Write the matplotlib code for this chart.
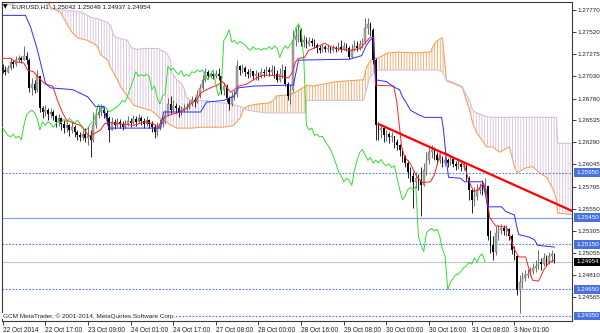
import matplotlib
matplotlib.use("Agg")
import matplotlib.pyplot as plt
import matplotlib.transforms as mtransforms
import numpy as np

plt.rcParams["font.family"] = ["Liberation Sans", "DejaVu Sans"]
plt.rcParams["hatch.linewidth"] = 0.6

# EURUSD H1 bars, oldest first (bar index 0 = 22 Oct 2014)
first_open = 1.2712
close = [
    1.2710, 1.2708, 1.2712, 1.2719, 1.2717, 1.2721, 1.2723, 1.2721, 1.2726, 1.2721,
    1.2690, 1.2694, 1.2688, 1.2703, 1.2667, 1.2663, 1.2665, 1.2661, 1.2663, 1.2658,
    1.2652, 1.2656, 1.2650, 1.2645, 1.2648, 1.2643, 1.2646, 1.2641, 1.2637, 1.2635,
    1.2638, 1.2634, 1.2636, 1.2632, 1.2648, 1.2660, 1.2663, 1.2665, 1.2662, 1.2656,
    1.2643, 1.2652, 1.2648, 1.2652, 1.2650, 1.2646, 1.2650, 1.2653, 1.2651, 1.2655,
    1.2652, 1.2656, 1.2653, 1.2650, 1.2654, 1.2650, 1.2646, 1.2641, 1.2645, 1.2650,
    1.2652, 1.2660, 1.2672, 1.2665, 1.2670, 1.2667, 1.2663, 1.2665, 1.2667, 1.2669,
    1.2672, 1.2676, 1.2674, 1.2682, 1.2690, 1.2699, 1.2708, 1.2703, 1.2705, 1.2703,
    1.2705, 1.2703, 1.2688, 1.2692, 1.2679, 1.2672, 1.2681, 1.2683, 1.2714, 1.2710,
    1.2712, 1.2708, 1.2705, 1.2709, 1.2703, 1.2705, 1.2703, 1.2708, 1.2707, 1.2710,
    1.2708, 1.2710, 1.2705, 1.2699, 1.2705, 1.2710, 1.2694, 1.2681, 1.2688, 1.2743,
    1.2748, 1.2755, 1.2741, 1.2743, 1.2739, 1.2742, 1.2740, 1.2738, 1.2734, 1.2732,
    1.2736, 1.2733, 1.2734, 1.2732, 1.2734, 1.2733, 1.2736, 1.2733, 1.2737, 1.2734,
    1.2724, 1.2732, 1.2737, 1.2734, 1.2739, 1.2741, 1.2757, 1.2761, 1.2755, 1.2721,
    1.2648, 1.2643, 1.2645, 1.2637, 1.2638, 1.2635, 1.2636, 1.2630, 1.2626, 1.2621,
    1.2614, 1.2606, 1.2596, 1.2592, 1.2585, 1.2589, 1.2587, 1.2581, 1.2598, 1.2609,
    1.2618, 1.2621, 1.2615, 1.2609, 1.2612, 1.2606, 1.2609, 1.2606, 1.2610, 1.2605,
    1.2603, 1.2605, 1.2601, 1.2603, 1.2589, 1.2576, 1.2565, 1.2569, 1.2576, 1.2579,
    1.2576, 1.2580, 1.2524, 1.2514, 1.2507, 1.2528, 1.2531, 1.2533, 1.2530, 1.2532,
    1.2524, 1.2509, 1.2502, 1.2464, 1.2473, 1.2477, 1.2481, 1.2482, 1.2485, 1.2489,
    1.2491, 1.2495, 1.2493, 1.2500, 1.2495, 1.2502, 1.25042, 1.24954]
high = [
    1.2717, 1.2714, 1.2715, 1.2723, 1.2721, 1.2726, 1.2727, 1.2726, 1.2737, 1.2730,
    1.2723, 1.2701, 1.2699, 1.2710, 1.2703, 1.2670, 1.2671, 1.2667, 1.2667, 1.2665,
    1.2660, 1.2661, 1.2657, 1.2654, 1.2653, 1.2650, 1.2652, 1.2648, 1.2643, 1.2641,
    1.2643, 1.2645, 1.2647, 1.2643, 1.2663, 1.2667, 1.2670, 1.2672, 1.2669, 1.2665,
    1.2658, 1.2657, 1.2655, 1.2656, 1.2655, 1.2653, 1.2654, 1.2658, 1.2656, 1.2660,
    1.2658, 1.2661, 1.2658, 1.2656, 1.2658, 1.2655, 1.2653, 1.2650, 1.2652, 1.2655,
    1.2657, 1.2665, 1.2679, 1.2681, 1.2676, 1.2673, 1.2671, 1.2670, 1.2672, 1.2673,
    1.2676, 1.2681, 1.2680, 1.2688, 1.2694, 1.2704, 1.2712, 1.2710, 1.2709, 1.2708,
    1.2710, 1.2712, 1.2703, 1.2696, 1.2694, 1.2681, 1.2685, 1.2688, 1.2721, 1.2715,
    1.2717, 1.2714, 1.2711, 1.2712, 1.2709, 1.2710, 1.2708, 1.2712, 1.2711, 1.2714,
    1.2713, 1.2715, 1.2714, 1.2710, 1.2712, 1.2717, 1.2714, 1.2696, 1.2694, 1.2755,
    1.2757, 1.2762, 1.2757, 1.2749, 1.2747, 1.2747, 1.2746, 1.2745, 1.2740, 1.2738,
    1.2739, 1.2738, 1.2739, 1.2737, 1.2738, 1.2737, 1.2741, 1.2743, 1.2741, 1.2740,
    1.2737, 1.2739, 1.2743, 1.2742, 1.2743, 1.2746, 1.2768, 1.2768, 1.2764, 1.2757,
    1.2723, 1.2652, 1.2650, 1.2645, 1.2643, 1.2641, 1.2641, 1.2636, 1.2633, 1.2627,
    1.2623, 1.2615, 1.2609, 1.2601, 1.2596, 1.2596, 1.2594, 1.2601, 1.2606, 1.2618,
    1.2625, 1.2626, 1.2624, 1.2618, 1.2616, 1.2614, 1.2614, 1.2612, 1.2615, 1.2612,
    1.2608, 1.2609, 1.2606, 1.2607, 1.2605, 1.2592, 1.2578, 1.2579, 1.2582, 1.2584,
    1.2587, 1.2589, 1.2580, 1.2531, 1.2524, 1.2536, 1.2537, 1.2538, 1.2537, 1.2537,
    1.2533, 1.2527, 1.2513, 1.2503, 1.2481, 1.2484, 1.2486, 1.2487, 1.2490, 1.2494,
    1.2498, 1.2509, 1.2500, 1.2505, 1.2503, 1.2506, 1.2509, 1.25049]
low = [
    1.2707, 1.2704, 1.2707, 1.2710, 1.2712, 1.2714, 1.2719, 1.2718, 1.2721, 1.2717,
    1.2685, 1.2682, 1.2684, 1.2685, 1.2663, 1.2656, 1.2658, 1.2654, 1.2656, 1.2654,
    1.2646, 1.2647, 1.2643, 1.2640, 1.2641, 1.2636, 1.2640, 1.2635, 1.2632, 1.2631,
    1.2632, 1.2630, 1.2626, 1.2613, 1.2630, 1.2645, 1.2656, 1.2658, 1.2656, 1.2650,
    1.2630, 1.2643, 1.2644, 1.2646, 1.2645, 1.2643, 1.2645, 1.2647, 1.2646, 1.2650,
    1.2647, 1.2651, 1.2648, 1.2645, 1.2647, 1.2645, 1.2641, 1.2634, 1.2636, 1.2643,
    1.2646, 1.2650, 1.2658, 1.2661, 1.2663, 1.2662, 1.2657, 1.2660, 1.2663, 1.2664,
    1.2666, 1.2670, 1.2669, 1.2673, 1.2679, 1.2688, 1.2696, 1.2700, 1.2701, 1.2700,
    1.2701, 1.2699, 1.2683, 1.2682, 1.2674, 1.2665, 1.2670, 1.2676, 1.2680, 1.2704,
    1.2707, 1.2703, 1.2701, 1.2702, 1.2699, 1.2699, 1.2699, 1.2701, 1.2702, 1.2704,
    1.2703, 1.2704, 1.2701, 1.2696, 1.2696, 1.2701, 1.2692, 1.2676, 1.2672, 1.2685,
    1.2737, 1.2741, 1.2737, 1.2736, 1.2734, 1.2737, 1.2737, 1.2734, 1.2729, 1.2729,
    1.2730, 1.2730, 1.2730, 1.2729, 1.2730, 1.2730, 1.2731, 1.2730, 1.2732, 1.2731,
    1.2722, 1.2723, 1.2731, 1.2731, 1.2732, 1.2734, 1.2739, 1.2750, 1.2748, 1.2717,
    1.2632, 1.2632, 1.2634, 1.2630, 1.2631, 1.2628, 1.2630, 1.2623, 1.2621, 1.2614,
    1.2607, 1.2601, 1.2589, 1.2585, 1.2556, 1.2578, 1.2576, 1.2547, 1.2580, 1.2593,
    1.2605, 1.2612, 1.2609, 1.2605, 1.2606, 1.2602, 1.2603, 1.2602, 1.2604, 1.2602,
    1.2598, 1.2599, 1.2597, 1.2598, 1.2586, 1.2565, 1.2550, 1.2558, 1.2565, 1.2571,
    1.2570, 1.2572, 1.2520, 1.2505, 1.2498, 1.2503, 1.2520, 1.2527, 1.2526, 1.2524,
    1.2520, 1.2504, 1.2498, 1.2459, 1.2438, 1.2466, 1.2474, 1.2477, 1.2480, 1.2482,
    1.2484, 1.2488, 1.2486, 1.2491, 1.2491, 1.2493, 1.2495, 1.24937]

# Ichimoku lines (bar position, price)
tenkan_x = [-0.8, 3.0, 4.9, 7.9, 9.4, 11.6, 14.3, 16.1, 18.8, 20.6, 22.5, 24.0, 26.3,
            29.3, 30.8, 32.3, 33.8, 36.8, 38.3, 40.5, 43.5, 49.1, 53.6, 56.3, 58.5,
            60.0, 63.0, 66.8, 69.0, 70.9, 72.8, 74.3, 76.5, 78.8, 80.6, 82.5, 84.0,
            85.5, 87.0, 88.5, 91.5, 94.1, 96.0, 97.5, 100.5, 104.3, 107.3, 108.8,
            109.9, 111.0, 113.3, 114.8, 116.6, 118.9, 120.8, 123.0, 126.8, 130.5,
            134.3, 136.2, 137.7, 139.2, 139.9, 146.7, 147.8, 148.9, 149.7, 150.8,
            153.0, 155.3, 157.5, 160.5, 162.0, 164.3, 166.5, 168.8, 171.4, 173.3,
            174.8, 176.7, 178.5, 180.4, 181.5, 182.7, 184.9, 189.0, 190.2, 191.7,
            193.6, 196.2, 197.3, 198.8, 201.1, 202.9, 204.8, 207.0]
tenkan = [1.2723, 1.2723, 1.2719, 1.2718, 1.2710, 1.2708, 1.2699, 1.2694, 1.2692,
          1.2676, 1.2662, 1.2654, 1.2651, 1.2648, 1.2643, 1.2636, 1.2638, 1.2643,
          1.2650, 1.2651, 1.2650, 1.2648, 1.2652, 1.2650, 1.2646, 1.2656, 1.2660,
          1.2663, 1.2667, 1.2673, 1.2676, 1.2684, 1.2688, 1.2691, 1.2693, 1.2697,
          1.2691, 1.2685, 1.2688, 1.2692, 1.2694, 1.2699, 1.2702, 1.2704, 1.2704,
          1.2703, 1.2701, 1.2708, 1.2719, 1.2723, 1.2724, 1.2732, 1.2734, 1.2737,
          1.2740, 1.2736, 1.2733, 1.2732, 1.2734, 1.2741, 1.2746, 1.2746, 1.2693,
          1.2692, 1.2676, 1.2646, 1.2624, 1.2613, 1.2605, 1.2591, 1.2584, 1.2585,
          1.2593, 1.2618, 1.2617, 1.2612, 1.2609, 1.2603, 1.2587, 1.2574, 1.2576,
          1.2584, 1.2574, 1.2545, 1.2536, 1.2534, 1.2526, 1.2511, 1.2501, 1.2501,
          1.2489, 1.2475, 1.2474, 1.2486, 1.2494, 1.2498]
kijun_x = [-0.8, 8.6, 10.5, 13.1, 16.1, 18.0, 26.3, 31.9, 34.9, 37.9, 39.8, 59.3,
           60.4, 74.3, 76.5, 82.9, 86.6, 88.5, 94.1, 107.3, 109.1, 111.0, 130.2,
           134.7, 136.2, 137.7, 139.2, 139.9, 144.0, 146.7, 148.9, 150.0, 151.5,
           153.0, 156.0, 158.3, 164.7, 165.4, 166.5, 167.3, 171.8, 173.3, 180.0,
           181.2, 181.9, 187.2, 188.7, 190.2, 192.0, 192.8, 193.6, 197.7, 199.6,
           200.7, 207.0]
kijun = [1.2771, 1.2771, 1.2758, 1.2732, 1.2695, 1.2690, 1.2688, 1.2680, 1.2669,
         1.2669, 1.2645, 1.2645, 1.2663, 1.2663, 1.2674, 1.2676, 1.2680, 1.2690,
         1.2692, 1.2693, 1.2693, 1.2721, 1.2722, 1.2726, 1.2736, 1.2743, 1.2746,
         1.2699, 1.2697, 1.2691, 1.2688, 1.2680, 1.2673, 1.2665, 1.2660, 1.2657,
         1.2657, 1.2643, 1.2609, 1.2590, 1.2589, 1.2585, 1.2585, 1.2570, 1.2557,
         1.2557, 1.2552, 1.2550, 1.2548, 1.2536, 1.2526, 1.2523, 1.2520, 1.2514,
         1.2512]
chikou_shift = 26

# Kumo (Senkou span A / B), already shifted 26 bars ahead
cloud_x = [-0.8, 3.8, 6.0, 16.1, 18.0, 21.8, 24.4, 26.3, 28.1, 29.3, 31.9, 33.0, 34.1,
           35.6, 36.8, 39.4, 40.5, 41.6, 43.1, 44.3, 46.9, 48.0, 49.1, 50.6, 52.9,
           55.5, 57.8, 58.5, 59.3, 60.4, 61.5, 63.0, 63.4, 65.3, 67.1, 67.9, 69.0,
           70.9, 74.6, 78.0, 82.9, 86.6, 89.3, 90.4, 92.3, 96.0, 99.8, 101.6, 102.8,
           106.5, 109.1, 111.4, 113.3, 113.7, 114.0, 116.6, 125.3, 135.4, 136.5,
           137.7, 139.5, 140.7, 144.4, 148.2, 154.2, 160.5, 161.7, 163.2, 165.0,
           166.5, 171.4, 172.5, 174.0, 175.2, 176.3, 177.8, 179.7, 181.5, 183.4,
           183.8, 186.4, 190.1, 192.0, 193.1, 195.8, 198.8, 201.4, 204.1, 206.3,
           207.8, 208.2, 214.5]
span_a = [1.2797, 1.2797, 1.2799, 1.2799, 1.2780, 1.2774, 1.2760, 1.2751, 1.2746,
          1.2745, 1.2743, 1.2741, 1.2740, 1.2736, 1.2727, 1.2721, 1.2713, 1.2707,
          1.2699, 1.2691, 1.2680, 1.2676, 1.2671, 1.2669, 1.2667, 1.2665, 1.2660,
          1.2657, 1.2656, 1.2654, 1.2652, 1.2648, 1.2648, 1.2645, 1.2645, 1.2645,
          1.2645, 1.2645, 1.2646, 1.2646, 1.2646, 1.2648, 1.2657, 1.2667, 1.2670,
          1.2672, 1.2673, 1.2676, 1.2681, 1.2682, 1.2684, 1.2688, 1.2691, 1.2691,
          1.2693, 1.2692, 1.2697, 1.2699, 1.2713, 1.2719, 1.2723, 1.2723, 1.2729,
          1.2730, 1.2729, 1.2730, 1.2738, 1.2743, 1.2746, 1.2698, 1.2692, 1.2690,
          1.2676, 1.2665, 1.2651, 1.2640, 1.2632, 1.2624, 1.2624, 1.2624, 1.2618,
          1.2624, 1.2602, 1.2595, 1.2600, 1.2602, 1.2595, 1.2590, 1.2578, 1.2565,
          1.2550, 1.2548]
span_b = [1.2782, 1.2783, 1.2789, 1.2789, 1.2778, 1.2777, 1.2776, 1.2776, 1.2775,
          1.2775, 1.2771, 1.2769, 1.2768, 1.2767, 1.2766, 1.2763, 1.2760, 1.2749,
          1.2746, 1.2745, 1.2743, 1.2736, 1.2734, 1.2733, 1.2734, 1.2734, 1.2734,
          1.2734, 1.2732, 1.2731, 1.2729, 1.2721, 1.2708, 1.2699, 1.2695, 1.2691,
          1.2679, 1.2676, 1.2676, 1.2675, 1.2673, 1.2671, 1.2669, 1.2667, 1.2665,
          1.2663, 1.2662, 1.2662, 1.2662, 1.2662, 1.2662, 1.2662, 1.2662, 1.2662,
          1.2676, 1.2676, 1.2676, 1.2676, 1.2688, 1.2701, 1.2708, 1.2710, 1.2710,
          1.2710, 1.2710, 1.2710, 1.2710, 1.2710, 1.2708, 1.2699, 1.2693, 1.2691,
          1.2682, 1.2676, 1.2665, 1.2662, 1.2660, 1.2658, 1.2657, 1.2657, 1.2657,
          1.2657, 1.2657, 1.2657, 1.2657, 1.2657, 1.2657, 1.2657, 1.2657, 1.2657,
          1.2628, 1.2628]

# drawn objects
trend_x = [140.7, 213.8]
trend_y = [1.26500, 1.25522]
dotted_levels = [1.25950, 1.25150, 1.24650, 1.24350]
solid_level = 1.25450
bid = 1.24954
box_levels = [1.25950, 1.25450, 1.25150, 1.24650, 1.24350]

price_ticks = [1.27770, 1.27520, 1.27275, 1.27030, 1.26780, 1.26535, 1.26290,
               1.26045, 1.25795, 1.25550, 1.25305, 1.25055, 1.24810, 1.24565]
time_pos = [0, 16, 32, 48, 64, 80, 96, 112, 128, 144, 160, 176, 192]
time_labels = ["22 Oct 2014", "22 Oct 17:00", "23 Oct 09:00", "24 Oct 01:00",
               "24 Oct 17:00", "27 Oct 08:00", "28 Oct 00:00", "28 Oct 16:00",
               "29 Oct 08:00", "30 Oct 00:00", "30 Oct 16:00", "31 Oct 08:00",
               "3 Nov 01:00"]

C_UP_KUMO = "#F4A460"   # sandybrown
C_DN_KUMO = "#D8BFD8"   # thistle
C_LEVEL = "#5577e0"
FS = 4.5

W, H = 600, 333
fig = plt.figure(figsize=(W / 100, H / 100), dpi=100)
ax = fig.add_axes([1.5 / W, 12 / H, 570.5 / W, 319.5 / H])
ax.set_xlim(-0.4, 213.6)
ax.set_ylim(1.24294, 1.27865)

# cloud
cx, a, b = np.array(cloud_x), np.array(span_a), np.array(span_b)
plt.rcParams["hatch.color"] = C_UP_KUMO
ax.fill_between(cx, a, b, where=a >= b, interpolate=True, facecolor="none",
                edgecolor=C_UP_KUMO, hatch="||||||", linewidth=0, zorder=1)
plt.rcParams["hatch.color"] = C_DN_KUMO
ax.fill_between(cx, a, b, where=a < b, interpolate=True, facecolor="none",
                edgecolor=C_DN_KUMO, hatch="||||||", linewidth=0, zorder=1)
ax.plot(cx, a, color=C_UP_KUMO, lw=0.8, zorder=1.5)
ax.plot(cx, b, color=C_DN_KUMO, lw=0.8, zorder=1.5)

# horizontal levels
for lv in dotted_levels:
    ax.axhline(lv, color=C_LEVEL, lw=0.8, ls=(0, (1.5, 1.5)), zorder=2)
ax.axhline(solid_level, color="#7b98ec", lw=0.8, zorder=2)
ax.axhline(bid, color="#c4c4c4", lw=0.8, zorder=2)

# candles
c = np.array(close); hi = np.array(high); lo = np.array(low)
o = np.r_[first_open, c[:-1]]
idx = np.arange(len(c))
up = c > o
blo = np.minimum(o, c)
bh = np.abs(c - o)
ax.vlines(idx[up], lo[up], hi[up], color="#555555", lw=0.6, zorder=3)
ax.vlines(idx[~up], lo[~up], hi[~up], color="black", lw=0.6, zorder=3)
ax.bar(idx[up], bh[up], bottom=blo[up], width=0.65, color="#a8a8a8",
       edgecolor="#666666", linewidth=0.3, zorder=3)
ax.bar(idx[~up], bh[~up], bottom=blo[~up], width=0.65, color="black",
       linewidth=0, zorder=3)

# ichimoku lines
ax.plot(idx - chikou_shift, c, color="#33dd33", lw=0.7, zorder=4)
ax.plot(tenkan_x, tenkan, color="#ff2020", lw=0.7, zorder=4)
ax.plot(kijun_x, kijun, color="#2a2aff", lw=0.7, zorder=4)

# trend line
ax.plot(trend_x, trend_y, color="red", lw=1.6, zorder=5, solid_capstyle="butt")

# frame and scales
for s in ax.spines.values():
    s.set_color("#3a3a3a"); s.set_linewidth(0.8)
ax.yaxis.tick_right()
ax.set_yticks(price_ticks)
ax.set_yticklabels([f"{v:.5f}" for v in price_ticks])
ax.tick_params(axis="y", length=3, width=0.6, pad=1, labelsize=FS,
               colors="#222222")
ax.set_xticks(time_pos)
ax.set_xticklabels(time_labels, ha="left")
ax.tick_params(axis="x", length=3, width=0.6, pad=1.5, labelsize=4.7,
               colors="#222222")

trans = mtransforms.blended_transform_factory(ax.transAxes, ax.transData)
for lv in box_levels:
    ax.annotate(f"{lv:.5f}", xy=(1, lv), xycoords=trans, xytext=(4, 0),
                textcoords="offset pixels", ha="left", va="center", fontsize=FS,
                color="white", annotation_clip=False, zorder=6,
                bbox=dict(boxstyle="square,pad=0.3", fc="#4a70dc", ec="none"))
ax.annotate(f"{bid:.5f}", xy=(1, bid), xycoords=trans, xytext=(4, 0),
            textcoords="offset pixels", ha="left", va="center", fontsize=FS,
            color="white", annotation_clip=False, zorder=6,
            bbox=dict(boxstyle="square,pad=0.3", fc="black", ec="none"))

fig.text(3 / W, 1 - 7 / H, "\u25bc", fontsize=4.2, va="center",
         family=["DejaVu Sans"])
fig.text(12 / W, 1 - 7 / H, "EURUSD,H1  1.25042 1.25049 1.24937 1.24954",
         fontsize=4.6, va="center", color="#111111")
fig.text(3 / W, 1 - 316 / H,
         "GCM MetaTrader, \u00a9 2001-2014, MetaQuotes Software Corp.",
         fontsize=4.6, va="center", color="#222222",
         bbox=dict(boxstyle="square,pad=0.1", fc="white", ec="none"))

fig.savefig("out.png", dpi=100)
